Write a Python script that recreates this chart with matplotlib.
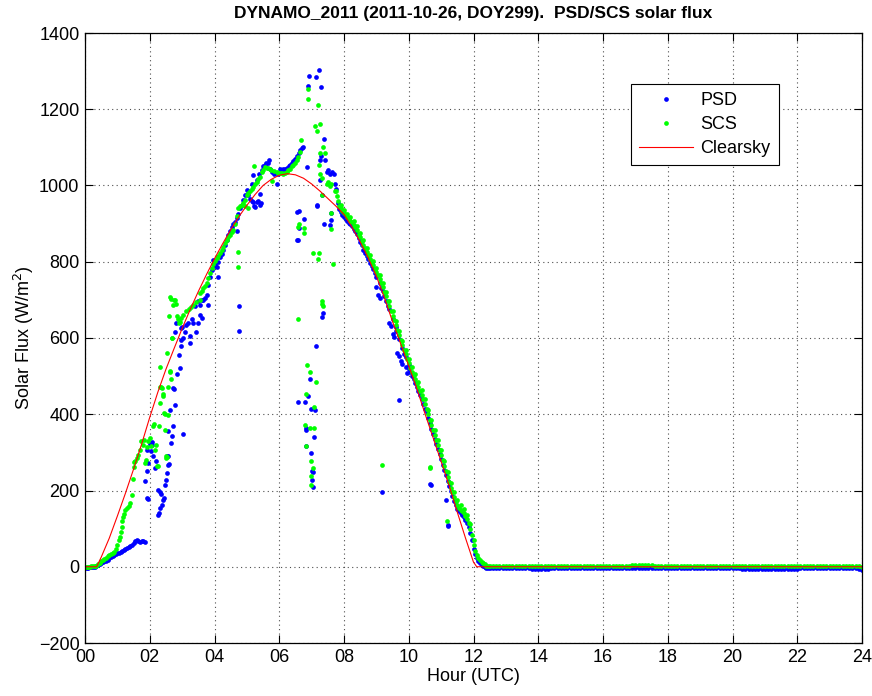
import matplotlib
matplotlib.use("Agg")
import matplotlib.pyplot as plt

# ---------------- data ----------------
clear_hour = [0.0, 0.36, 0.5, 0.75, 1.0, 1.25, 1.5, 1.75, 2.0, 2.25, 2.5, 2.75, 3.0, 3.25,
              3.5, 3.75, 4.0, 4.25, 4.5, 4.75, 5.0, 5.25, 5.5, 5.75, 6.0, 6.25, 6.5, 6.75,
              7.0, 7.25, 7.5, 7.75, 8.0, 8.25, 8.5, 8.75, 9.0, 9.25, 9.5, 9.75, 10.0,
              10.25, 10.5, 10.75, 11.0, 11.25, 11.5, 11.75, 12.0, 12.1, 24.0]
clear_flux = [0, 0, 25, 75, 133, 193, 256, 322, 392, 458, 518, 572, 625, 675,
              722, 766, 808, 847, 884, 918, 948, 976, 1000, 1016, 1027, 1031, 1028, 1019,
              1004, 986, 966, 946, 924, 890, 852, 810, 762, 705, 643, 585, 527,
              467, 402, 339, 276, 212, 143, 76, 12, 0, 0]

# PSD (blue) daytime points: (hour, W/m2)
psd_early = [(0.0, -2), (0.05, -2), (0.1, -2), (0.15, -1), (0.2, -1), (0.25, 0), (0.3, 0),
             (0.35, 1), (0.4, 4), (0.45, 8), (0.5, 10), (0.55, 12), (0.6, 14), (0.65, 16),
             (0.7, 19), (0.75, 22), (0.8, 25), (0.85, 28), (0.9, 31), (0.95, 33), (1.0, 35),
             (1.05, 37), (1.1, 39), (1.15, 41), (1.2, 43), (1.25, 46), (1.3, 48), (1.35, 51),
             (1.4, 54), (1.45, 58), (1.5, 63), (1.55, 68), (1.6, 70), (1.65, 67), (1.7, 66),
             (1.75, 67), (1.8, 68), (1.85, 66)]
psd_broken = [(1.85, 224), (1.87, 275), (1.9, 250), (1.92, 180), (1.92, 307), (1.95, 272),
              (1.96, 179), (2.0, 323), (2.05, 303), (2.08, 320), (2.06, 328), (2.1, 290),
              (2.15, 259), (2.2, 277), (2.26, 202), (2.31, 195), (2.34, 192), (2.26, 137),
              (2.29, 142), (2.33, 154), (2.39, 163), (2.41, 176), (2.43, 181), (2.46, 215),
              (2.49, 228), (2.52, 245), (2.57, 268), (2.6, 270), (2.57, 290), (2.53, 290),
              (2.67, 325), (2.7, 342), (2.57, 355), (2.72, 370), (3.03, 348), (2.64, 412),
              (2.77, 425), (2.72, 469), (2.76, 465), (2.84, 506), (2.93, 521), (2.91, 556),
              (2.98, 578), (2.98, 596), (3.03, 600), (3.08, 617), (3.24, 604), (3.24, 587),
              (2.77, 617), (2.82, 639), (3.13, 635), (3.18, 640), (3.34, 639), (3.44, 617),
              (3.49, 639), (3.54, 661), (3.6, 652), (3.8, 687), (3.39, 683), (3.49, 696),
              (3.29, 650), (3.0, 630), (2.95, 625)]
psd_rise = [(3.55, 686), (3.6, 700), (3.65, 700), (3.7, 705), (3.76, 712), (3.81, 740),
            (3.86, 760), (3.91, 778), (3.96, 804), (4.0, 795), (4.02, 790), (4.07, 787),
            (4.12, 760), (4.12, 800), (4.17, 813), (4.22, 820), (4.27, 830), (4.33, 845),
            (4.38, 858), (4.43, 870), (4.48, 880), (4.53, 892), (4.58, 898), (4.63, 905),
            (4.68, 915), (4.69, 880), (4.74, 926), (4.79, 940), (4.84, 950), (4.89, 962),
            (4.94, 975), (4.99, 988), (5.04, 975), (5.1, 965), (5.15, 960), (5.2, 957),
            (5.22, 946), (5.25, 944), (5.3, 957), (5.35, 960), (5.4, 948), (5.45, 955),
            (5.41, 979), (5.15, 1005), (5.2, 1027), (5.3, 1015), (5.36, 1030), (5.46, 1040),
            (5.51, 1050), (5.56, 1055), (5.6, 1059), (5.66, 1058), (5.69, 1066), (5.72, 1042),
            (5.77, 1035), (5.83, 1030), (5.92, 1005), (5.97, 1030), (6.03, 1042), (6.08, 1040),
            (6.13, 1042), (6.18, 1043), (6.24, 1045), (6.29, 1050), (6.34, 1055), (6.39, 1060),
            (6.44, 1064), (6.5, 1070), (6.55, 1077), (6.6, 1085), (6.65, 1092), (6.7, 1098),
            (6.73, 1101), (4.76, 683), (4.77, 618)]
psd_cloud = [(6.56, 931), (6.54, 857), (6.57, 858), (6.6, 933), (6.6, 889), (6.77, 911),
             (6.85, 1048), (6.9, 1261), (6.91, 1287), (7.14, 1285), (7.22, 1302), (7.3, 1258),
             (7.16, 946), (7.18, 950), (7.37, 898), (7.37, 1121), (7.42, 1068), (7.27, 1066),
             (7.28, 1078), (7.25, 1014), (7.47, 1035), (7.52, 1040), (7.57, 1030), (7.62, 1035),
             (7.68, 1029), (7.73, 1005), (7.57, 896), (7.59, 910), (7.6, 927), (7.32, 974),
             (6.59, 433), (6.79, 433), (6.84, 360), (6.82, 365), (6.84, 316), (6.9, 448),
             (6.94, 492), (6.97, 413), (7.1, 411), (7.07, 341), (6.97, 299), (7.0, 250),
             (7.03, 248), (7.0, 227), (7.04, 209), (7.14, 578), (7.35, 666), (7.33, 655)]
psd_fall_extra = [(9.0, 760), (9.1, 745), (9.4, 675), (9.5, 650), (9.6, 628), (9.7, 598),
                  (9.8, 575), (9.9, 550), (10.0, 528), (9.18, 197), (9.7, 437), (10.67, 217),
                  (10.69, 215), (11.22, 106), (11.14, 174), (11.2, 110)]
# descending limb, sampled every 0.05 h from 7.75 h
psd_fall_flux = [990, 955, 938, 930, 923, 917, 912, 907, 902, 898,
                 893, 887, 880, 872, 862, 853, 843, 832, 824, 815,
                 806, 797, 789, 780, 770, 735, 712, 705, 732, 722,
                 710, 698, 685, 640, 632, 610, 603, 618, 560, 552,
                 540, 533, 557, 525, 507, 520, 510, 500, 492, 482,
                 472, 461, 450, 440, 428, 415, 405, 390, 376, 362,
                 349, 336, 322, 309, 296, 282, 268, 254, 240, 226,
                 212, 198, 185, 173, 162, 152, 145, 140, 135, 130,
                 123, 115, 103, 88, 70, 47, 33, 22, 14, 9,
                 5, 2, 0, -2, -3]
# night, sampled every 0.1 h from 12.5 h
psd_night_flux = [-2, -2, -2, -2, -2, -2, -2, -2, -2, -2,
                  -2, -2, -4, -5, -5, -5, -5, -5, -5, -2,
                  -2, -2, -2, -2, -2, -2, -2, -2, -2, -2,
                  -2, -2, -4, -4, -2, -2, -2, -2, -2, -2,
                  -3, -3, -3, -3, -3, -3, -3, -3, -3, -3,
                  -2, -2, -2, -2, -2, -2, -2, -2, -2, -2,
                  -2, -2, -2, -2, -2, -2, -2, -2, -2, -2,
                  -2, -2, -2, -2, -2, -2, -2, -4, -5, -5,
                  -5, -5, -5, -5, -5, -5, -5, -5, -5, -5,
                  -5, -5, -5, -5, -5, -5, -4, -2, -2, -2,
                  -2, -2, -2, -2, -2, -2, -2, -2, -2, -2,
                  -2, -2, -2, -3, -7, -8]

# SCS (green) daytime points
scs_early = [(0.0, 0), (0.05, 0), (0.1, 0), (0.15, 0), (0.2, 1), (0.25, 1), (0.3, 2),
             (0.35, 3), (0.4, 6), (0.45, 10), (0.5, 14), (0.55, 18), (0.6, 21), (0.65, 24),
             (0.7, 27), (0.75, 30), (0.8, 33), (0.85, 35), (0.9, 40), (0.95, 47), (1.0, 56),
             (1.05, 70), (1.08, 78), (1.1, 90), (1.13, 105), (1.15, 120), (1.18, 131),
             (1.2, 138), (1.25, 148), (1.3, 155), (1.35, 160), (1.4, 168), (1.45, 188),
             (1.48, 230), (1.5, 262), (1.52, 275), (1.55, 278), (1.6, 284), (1.65, 292),
             (1.7, 306), (1.74, 329), (1.78, 320), (1.81, 333), (1.85, 272), (1.88, 280)]
scs_broken = [(1.9, 315), (1.95, 330), (2.0, 338), (2.05, 316), (2.1, 368), (2.12, 375),
              (2.15, 307), (2.2, 320), (2.26, 263), (2.22, 263), (2.3, 370), (2.33, 524),
              (2.36, 472), (2.32, 472), (2.32, 430), (2.37, 470), (2.41, 447), (2.4, 452),
              (2.44, 402), (2.46, 360), (2.47, 400), (2.49, 290), (2.51, 286), (2.52, 288),
              (2.54, 561), (2.57, 399), (2.57, 472), (2.6, 657), (2.62, 511), (2.62, 708),
              (2.64, 513), (2.67, 493), (2.67, 703), (2.68, 599), (2.7, 600), (2.72, 687),
              (2.74, 700), (2.78, 700), (2.8, 690), (2.84, 657), (2.87, 650), (2.91, 639),
              (2.93, 642), (2.98, 652), (3.04, 660), (3.13, 670), (3.2, 675), (3.28, 682),
              (3.34, 687), (3.42, 695), (3.54, 700)]
scs_rise = [(3.55, 717), (3.6, 722), (3.65, 730), (3.7, 737), (3.76, 743), (3.81, 757),
            (3.86, 770), (3.91, 783), (3.96, 795), (4.02, 803), (4.07, 810), (4.12, 816),
            (4.17, 822), (4.22, 831), (4.27, 840), (4.33, 849), (4.38, 857), (4.43, 864),
            (4.48, 870), (4.53, 877), (4.58, 883), (4.63, 900), (4.68, 920), (4.74, 940),
            (4.79, 945), (4.84, 948), (4.89, 953), (4.94, 962), (4.99, 975), (5.04, 980),
            (5.1, 985), (5.15, 990), (5.2, 996), (5.21, 1051), (5.25, 1003), (5.3, 1010),
            (5.35, 1016), (5.41, 1023), (5.46, 1035), (5.5, 1040), (5.56, 1049), (5.61, 1047),
            (5.66, 1045), (5.71, 1042), (5.76, 1040), (5.77, 1011), (5.84, 1038), (5.92, 1036),
            (5.97, 1034), (6.02, 1033), (6.08, 1032), (6.13, 1031), (6.18, 1033), (6.23, 1035),
            (6.28, 1040), (6.33, 1044), (6.38, 1050), (6.44, 1055), (6.49, 1060), (6.54, 1066),
            (6.59, 1075), (6.64, 1088), (6.68, 1119), (4.95, 945), (5.05, 942),
            (4.74, 826), (4.72, 786)]
scs_cloud = [(6.58, 651), (6.59, 891), (6.6, 898), (6.75, 889), (6.77, 876), (7.05, 822),
             (7.2, 806), (7.22, 822), (7.61, 927), (7.61, 885), (7.65, 793), (7.31, 697),
             (7.35, 683), (7.33, 690), (6.88, 1227), (6.89, 1254), (7.19, 1211), (7.11, 1157),
             (7.27, 1160), (7.16, 1144), (7.35, 1101), (7.42, 1084), (7.27, 1085), (7.22, 1055),
             (7.25, 1029), (7.32, 1020), (7.47, 1003), (7.57, 998), (7.73, 985), (7.78, 972),
             (7.5, 1010), (7.6, 1005), (7.32, 974), (6.87, 528), (6.95, 510), (7.12, 485),
             (6.84, 453), (7.07, 420), (6.81, 372), (6.95, 363), (7.07, 363), (6.84, 316),
             (6.97, 277), (7.05, 259), (6.99, 237), (6.99, 215)]
scs_fall_extra = [(9.18, 267), (10.65, 262), (10.67, 258), (11.19, 119)]
scs_fall_flux = [985, 960, 945, 940, 933, 927, 922, 917, 912, 908,
                 903, 897, 890, 883, 874, 865, 855, 844, 835, 826,
                 817, 808, 800, 792, 782, 773, 765, 755, 745, 733,
                 721, 709, 696, 684, 671, 658, 646, 633, 620, 607,
                 594, 581, 568, 557, 546, 534, 522, 512, 503, 493,
                 483, 472, 462, 451, 440, 428, 415, 400, 386, 372,
                 359, 346, 333, 320, 307, 293, 279, 265, 250, 236,
                 222, 207, 195, 183, 172, 162, 155, 150, 145, 140,
                 133, 125, 115, 100, 82, 58, 42, 30, 22, 17,
                 13, 10, 6, 3, 1]
# upper edge of the SCS band on the descending limb, every 0.1 h from 7.9 h
scs_fall_upper = [948, 936, 926, 917, 906, 893, 876, 856, 837, 819,
                  803, 784, 766, 745, 721, 696, 670, 645, 619, 593,
                  569, 546, 524, 505, 484, 463, 440, 412, 384, 358,
                  332, 305, 277, 248, 219, 195, 174, 162, 152, 137,
                  112, 70]
scs_night_flux = [1, 2, 2, 2, 2, 2, 2, 2, 2, 2,
                  2, 2, 2, 2, 2, 2, 2, 3, 3, 2,
                  2, 2, 2, 2, 2, 3, 2, 2, 2, 2,
                  2, 2, 2, 2, 2, 2, 2, 2, 3, 3,
                  2, 2, 2, 3, 4, 4, 5, 5, 5, 5,
                  4, 2, 2, 2, 2, 2, 2, 2, 2, 2,
                  3, 2, 2, 2, 2, 2, 2, 2, 2, 2,
                  2, 2, 2, 2, 2, 2, 2, 2, 2, 2,
                  2, 2, 2, 2, 2, 2, 2, 2, 2, 2,
                  2, 2, 2, 2, 2, 2, 2, 2, 2, 2,
                  2, 2, 2, 2, 2, 2, 2, 2, 2, 2,
                  2, 2, 2, 2, 2, -1]

xtick_vals = list(range(0, 25, 2))
xtick_labels = ["%02d" % v for v in xtick_vals]
ytick_vals = list(range(-200, 1401, 200))


def assemble(pairs_list, sampled):
    hours, flux = [], []
    for pairs in pairs_list:
        for h, v in pairs:
            hours.append(h)
            flux.append(v)
    for start, step, values in sampled:
        for i, v in enumerate(values):
            hours.append(start + step * i)
            flux.append(v)
    return hours, flux


psd_h, psd_v = assemble([psd_early, psd_broken, psd_rise, psd_cloud, psd_fall_extra],
                        [(7.75, 0.05, psd_fall_flux), (12.5, 0.1, psd_night_flux)])
scs_h, scs_v = assemble([scs_early, scs_broken, scs_rise, scs_cloud, scs_fall_extra],
                        [(7.75, 0.05, scs_fall_flux), (7.9, 0.1, scs_fall_upper),
                         (12.5, 0.1, scs_night_flux)])

# ---------------- plotting ----------------
plt.rcParams['font.family'] = ['Liberation Sans', 'DejaVu Sans']
fig = plt.figure(figsize=(8.72, 6.96), dpi=100)
ax = fig.add_axes([85 / 872, 53 / 696, 777 / 872, 610 / 696])

ax.plot(psd_h, psd_v, linestyle='none', marker='o', ms=3.4, mew=0,
        color=(0, 0, 1), label='PSD')
ax.plot(scs_h, scs_v, linestyle='none', marker='o', ms=3.4, mew=0,
        color=(0, 1, 0), label='SCS')
ax.plot(clear_hour, clear_flux, color=(1, 0, 0), lw=0.8, label='Clearsky')

ax.set_xlim(0, 24)
ax.set_ylim(-200, 1400)
ax.set_xticks(xtick_vals)
ax.set_xticklabels(xtick_labels)
ax.set_yticks(ytick_vals)
ax.tick_params(direction='in', length=6, width=0.8, top=True, right=True,
               labelsize=13, pad=4)
ax.grid(True, color='0.3', linestyle=(0, (1, 3)), linewidth=0.8)
for s in ax.spines.values():
    s.set_linewidth(0.9)

ax.set_xlabel('Hour (UTC)', fontsize=13, labelpad=2)
ax.set_ylabel('Solar Flux (W/m$^2$)', fontsize=13, labelpad=2)
ax.set_title('DYNAMO_2011 (2011-10-26, DOY299).  PSD/SCS solar flux',
             fontsize=12.5, fontweight='bold', pad=11)

leg = ax.legend(loc='upper right', bbox_to_anchor=(0.893, 0.916), fontsize=13,
                frameon=True, fancybox=False, framealpha=1, edgecolor='black',
                handlelength=3.0, handletextpad=0.4, labelspacing=0.38,
                borderpad=0.45, borderaxespad=0.0, markerscale=1.0)
leg.get_frame().set_linewidth(0.8)

fig.savefig('out.png', dpi=100)
